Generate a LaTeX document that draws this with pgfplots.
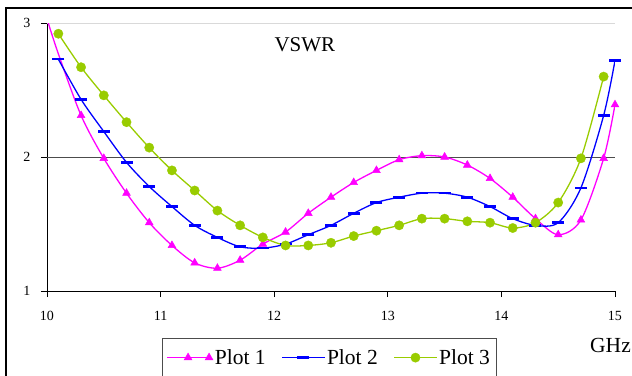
\documentclass[border=0pt]{standalone}
\usepackage{fontspec}
\setmainfont{Liberation Serif}
\usepackage{pgfplots}
\pgfplotsset{compat=1.18}
\definecolor{pinkc}{RGB}{255,0,255}
\definecolor{bluec}{RGB}{0,0,255}
\definecolor{greenc}{RGB}{153,204,0}
\begin{document}
\begin{tikzpicture}[x=1pt,y=1pt]
\path[use as bounding box] (0,0) rectangle (632,-375);
\draw[line width=1.6pt] (6,-8) rectangle (700,-450);
\begin{axis}[
  at={(47pt,-291pt)}, anchor=south west,
  scale only axis, width=568pt, height=268pt,
  xmin=10, xmax=15, ymin=1, ymax=3,
  axis x line*=bottom, axis y line*=left,
  xtick={10,11,12,13,14,15},
  ytick={1,2,3},
  tick align=outside,
  major tick length=6pt,
  every tick/.style={black, line width=0.8pt},
  /pgf/number format/assume math mode=true,
  ticklabel style={font=\fontsize{14}{14}\selectfont},
  xticklabel style={yshift=-11pt},
  yticklabel style={xshift=-7pt},
  legend style={at={(0.2025,-0.1754)}, anchor=north west, draw=black!70, line width=0.8pt,
    font=\fontsize{21.5}{24}\selectfont, inner xsep=4pt, inner ysep=9pt,
    /tikz/every even column/.append style={column sep=14pt}},
  legend columns=3,
  legend image code/.code={\draw[mark repeat=2, mark phase=2] plot coordinates {(0pt,0pt) (21pt,0pt) (42pt,0pt)};},
]
\draw[black!15, line width=0.8pt] (axis cs:10,3) -- (axis cs:15,3);
\draw[black!70, line width=0.9pt] (axis cs:10,2) -- (axis cs:15,2);
\addplot[color=pinkc, line width=1.3pt, smooth, mark=triangle*, mark size=4.5pt, mark options={line width=0.5pt},
  mark indices={2,3,4,5,6,7,8,9,10,11,12,13,14,15,16,17,18,19,20,21,22,23,24,25,26,27}]
coordinates {
(10.0,3.03) (10.1,2.77) (10.3,2.31) (10.5,1.99) (10.7,1.73) (10.9,1.51) (11.1,1.34)
(11.3,1.21) (11.5,1.17) (11.7,1.23) (11.9,1.35) (12.1,1.44) (12.3,1.58) (12.5,1.70)
(12.7,1.81) (12.9,1.90) (13.1,1.98) (13.3,2.01) (13.5,2.00) (13.7,1.94) (13.9,1.84)
(14.1,1.70) (14.3,1.54) (14.5,1.42) (14.7,1.53) (14.9,1.99) (15.0,2.39)
};
\addlegendentry{Plot 1}
\addplot[color=bluec, line width=1.3pt, smooth, mark=-, mark size=6pt, mark options={line width=2.6pt}]
coordinates {
(10.1,2.73) (10.3,2.43) (10.5,2.19) (10.7,1.96) (10.9,1.78) (11.1,1.63) (11.3,1.49)
(11.5,1.40) (11.7,1.33) (11.9,1.32) (12.1,1.35) (12.3,1.42) (12.5,1.49) (12.7,1.58)
(12.9,1.66) (13.1,1.70) (13.3,1.73) (13.5,1.73) (13.7,1.70) (13.9,1.63) (14.1,1.54)
(14.3,1.49) (14.5,1.51) (14.7,1.77) (14.9,2.31) (15.0,2.72)
};
\addlegendentry{Plot 2}
\addplot[color=greenc, line width=1.3pt, smooth, mark=*, mark size=4.7pt, mark options={line width=0.3pt}]
coordinates {
(10.1,2.92) (10.3,2.67) (10.5,2.46) (10.7,2.26) (10.9,2.07) (11.1,1.90) (11.3,1.75)
(11.5,1.60) (11.7,1.49) (11.9,1.40) (12.1,1.34) (12.3,1.34) (12.5,1.36) (12.7,1.41)
(12.9,1.45) (13.1,1.49) (13.3,1.54) (13.5,1.54) (13.7,1.52) (13.9,1.51) (14.1,1.47)
(14.3,1.51) (14.5,1.66) (14.7,1.99) (14.9,2.60)
};
\addlegendentry{Plot 3}
\node[anchor=base, font=\fontsize{21}{24}\selectfont] at (rel axis cs:0.454,0.892) {VSWR};
\end{axis}
\foreach \tx in {47,160.6,274.2,387.8,501.4,615} \draw[black, line width=0.8pt] (\tx,-291) -- (\tx,-297);
\foreach \ty in {-23,-157,-291} \draw[black, line width=0.8pt] (41,\ty) -- (47,\ty);
\node[anchor=base west, font=\fontsize{21.5}{24}\selectfont, inner sep=0pt] at (590,-352) {GHz};
\end{tikzpicture}
\end{document}
